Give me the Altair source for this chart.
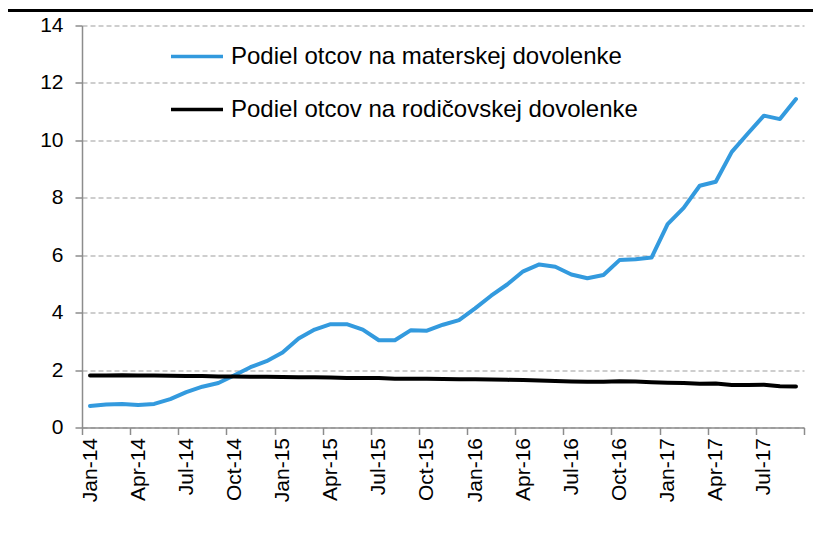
import altair as alt
import pandas as pd

month_abbr = ["Jan", "Feb", "Mar", "Apr", "May", "Jun", "Jul", "Aug", "Sep", "Oct", "Nov", "Dec"]
years = ["14", "15", "16", "17"]
months = [f"{m}-{y}" for y in years for m in month_abbr][:45]

maternity = [0.75, 0.80, 0.82, 0.78, 0.82, 0.99, 1.23, 1.42, 1.55, 1.82,
             2.10, 2.31, 2.61, 3.10, 3.41, 3.60, 3.60, 3.41, 3.04, 3.04,
             3.39, 3.37, 3.58, 3.74, 4.15, 4.59, 4.98, 5.44, 5.68, 5.60,
             5.33, 5.20, 5.31, 5.83, 5.86, 5.92, 7.08, 7.65, 8.42, 8.56,
             9.60, 10.24, 10.86, 10.74, 11.44]
parental = [1.81, 1.81, 1.82, 1.81, 1.81, 1.80, 1.79, 1.79, 1.78, 1.78,
            1.77, 1.77, 1.76, 1.75, 1.75, 1.74, 1.72, 1.72, 1.72, 1.70,
            1.70, 1.70, 1.69, 1.68, 1.68, 1.67, 1.66, 1.65, 1.64, 1.62,
            1.60, 1.59, 1.59, 1.61, 1.60, 1.58, 1.56, 1.55, 1.52, 1.53,
            1.48, 1.48, 1.49, 1.44, 1.43]

series_names = ["Podiel otcov na materskej dovolenke", "Podiel otcov na rodičovskej dovolenke"]
series_colors = ["#339ADE", "#000000"]
y_ticks = [0, 2, 4, 6, 8, 10, 12, 14]

rows = []
for name, vals in zip(series_names, [maternity, parental]):
    for i, (m, v) in enumerate(zip(months, vals)):
        rows.append({"idx": i + 0.5, "month": m, "series": name, "value": v})
df = pd.DataFrame(rows)

tick_idx = list(range(0, len(months) + 1, 3))
label_arr = "[" + ",".join("'" + months[i] + "'" for i in range(0, len(months), 3)) + "]"
label_expr = f"datum.value < {len(months)} ? {label_arr}[round(datum.value / 3)] : ''"

FONT = "Liberation Sans"
AXIS_GRAY = "#8C8C8C"

lines = alt.Chart(df).mark_line(strokeWidth=4, strokeJoin="round", strokeCap="round").encode(
    x=alt.X("idx:Q",
            scale=alt.Scale(domain=[0, len(months)], nice=False, zero=False),
            axis=alt.Axis(values=tick_idx, labelExpr=label_expr, labelAngle=270,
                          labelAlign="right", labelBaseline="middle", labelOffset=8,
                          labelPadding=3, tickSize=7, grid=False, title=None,
                          labelOverlap=False, labelFlush=False, labelFontSize=21,
                          labelFont=FONT, labelColor="black",
                          domainColor=AXIS_GRAY, tickColor=AXIS_GRAY, domainWidth=1.5, tickWidth=1.5)),
    y=alt.Y("value:Q",
            scale=alt.Scale(domain=[0, 14], nice=False),
            axis=alt.Axis(values=y_ticks, grid=True, gridDash=[5, 3], gridColor="#BFBFBF",
                          gridWidth=1.3, tickSize=7, labelPadding=12, labelFontSize=21,
                          labelFont=FONT, labelColor="black", title=None,
                          domainColor=AXIS_GRAY, tickColor=AXIS_GRAY, domainWidth=1.5, tickWidth=1.5)),
    color=alt.Color("series:N",
                    scale=alt.Scale(domain=series_names, range=series_colors),
                    legend=alt.Legend(orient="none", legendX=87, legendY=3, title=None,
                                      symbolType="stroke", symbolSize=2704, symbolStrokeWidth=3.5,
                                      labelFontSize=24, labelFont=FONT, labelColor="black",
                                      labelOffset=6, rowPadding=13, padding=0,
                                      labelLimit=600)),
    detail="series:N",
)

top_rule = alt.Chart(pd.DataFrame({"k": [0]})).mark_rule(color="black", strokeWidth=3).encode(
    x=alt.value(-80), x2=alt.value(740), y=alt.value(-15)
)

chart = alt.layer(lines, top_rule).properties(
    width=722, height=402,
    autosize=alt.AutoSizeParams(type="none"),
    padding={"left": 74, "top": 17.5, "right": 9, "bottom": 110},
).configure_view(stroke=None)

chart.save("out.html", embed_options={"renderer": "svg", "actions": False})
